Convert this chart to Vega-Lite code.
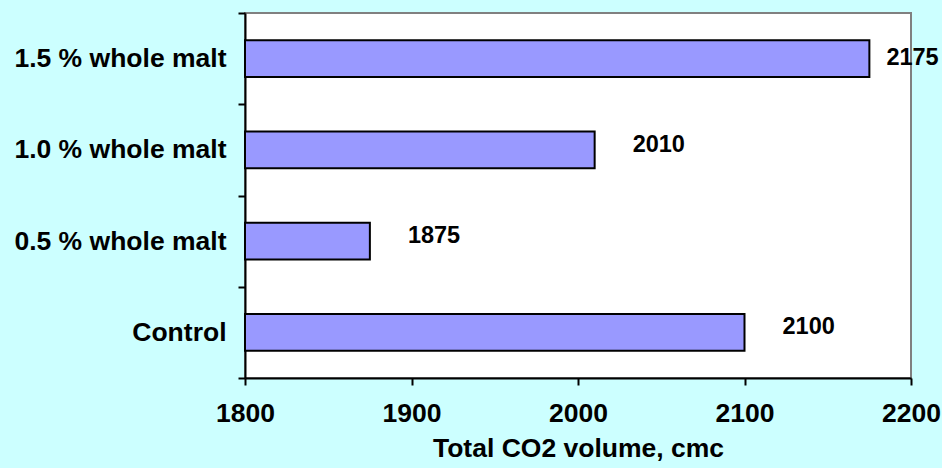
{
  "$schema": "https://vega.github.io/schema/vega-lite/v6.json",
  "width": 666,
  "height": 365,
  "autosize": {"type": "none"},
  "padding": {"left": 245, "top": 13, "right": 31, "bottom": 90},
  "background": "#CCFFFF",
  "config": {
    "view": {"fill": "white", "stroke": "#808080", "strokeWidth": 2},
    "font": "Liberation Sans",
    "axis": {
      "domainColor": "black",
      "domainWidth": 2,
      "tickColor": "black",
      "tickWidth": 2,
      "tickSize": 7,
      "labelColor": "black",
      "labelFontWeight": "bold",
      "labelFontSize": 26.5,
      "titleColor": "black",
      "titleFontWeight": "bold",
      "titleFontSize": 26.5,
      "grid": false
    }
  },
  "data": {
    "values": [
      {"group": "Control", "volume": 2100},
      {"group": "0.5 % whole malt", "volume": 1875},
      {"group": "1.0 % whole malt", "volume": 2010},
      {"group": "1.5 % whole malt", "volume": 2175}
    ]
  },
  "encoding": {
    "y": {
      "field": "group",
      "type": "nominal",
      "sort": ["1.5 % whole malt", "1.0 % whole malt", "0.5 % whole malt", "Control"],
      "scale": {"paddingInner": 0, "paddingOuter": 0},
      "axis": {"title": null, "tickBand": "extent", "labelPadding": 12, "labelLimit": 300}
    },
    "x": {
      "field": "volume",
      "type": "quantitative",
      "scale": {"domain": [1800, 2200], "nice": false, "zero": false},
      "axis": {
        "title": "Total CO2 volume, cmc",
        "values": [1800, 1900, 2000, 2100, 2200],
        "format": "d",
        "labelPadding": 15,
        "titlePadding": 9,
        "labelFlush": false,
        "labelOverlap": false
      }
    }
  },
  "layer": [
    {
      "mark": {"type": "bar", "fill": "#9999FF", "stroke": "black", "strokeWidth": 2, "height": {"band": 0.405}},
      "encoding": {"x2": {"datum": 1800}}
    },
    {
      "transform": [{"filter": "datum.volume < 2150"}],
      "mark": {"type": "text", "align": "left", "baseline": "middle", "dx": 38, "dy": -5, "fontSize": 23.5, "fontWeight": "bold", "color": "black"},
      "encoding": {"text": {"field": "volume", "type": "quantitative", "format": "d"}}
    },
    {
      "transform": [{"filter": "datum.volume >= 2150"}],
      "mark": {"type": "text", "align": "left", "baseline": "middle", "dx": 17, "dy": -1, "fontSize": 23.5, "fontWeight": "bold", "color": "black"},
      "encoding": {"text": {"field": "volume", "type": "quantitative", "format": "d"}}
    }
  ]
}
